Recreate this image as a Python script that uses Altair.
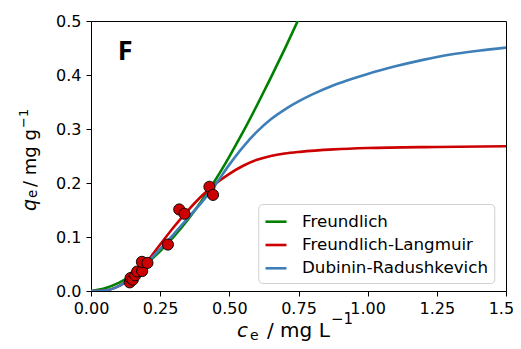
import altair as alt
import pandas as pd

# ---- data ----
series_names = ["Freundlich", "Freundlich-Langmuir", "Dubinin-Radushkevich"]
series_colors = ["#008000", "#cc0000", "#3e7fb8"]

fr_c = [0, 0.05, 0.1, 0.15, 0.2, 0.25, 0.3, 0.35, 0.4, 0.45, 0.5, 0.55, 0.6, 0.65, 0.7, 0.75]
fr_q = [0, 0.005, 0.015, 0.030, 0.050, 0.074, 0.101, 0.132, 0.167, 0.206, 0.249, 0.295, 0.344, 0.395, 0.448, 0.503]

fl_c = [0, 0.05, 0.1, 0.15, 0.2, 0.25, 0.3, 0.35, 0.4, 0.443, 0.5, 0.55, 0.6, 0.65, 0.7, 0.756, 0.877, 1.0, 1.25, 1.5]
fl_q = [0, 0.001, 0.009, 0.027, 0.053, 0.086, 0.119, 0.149, 0.176, 0.196, 0.217, 0.232, 0.243, 0.250, 0.2545, 0.2577, 0.2622, 0.2648, 0.2668, 0.268]

dr_c = [0, 0.05, 0.1, 0.15, 0.2, 0.25, 0.3, 0.35, 0.4, 0.45, 0.5, 0.55, 0.6, 0.65, 0.7, 0.75, 0.8, 0.877, 0.95, 1.0, 1.1, 1.2, 1.3, 1.4, 1.5]
dr_q = [0, 0.001, 0.009, 0.027, 0.051, 0.078, 0.106, 0.135, 0.164, 0.197, 0.234, 0.267, 0.295, 0.318, 0.336, 0.351, 0.364, 0.381, 0.394, 0.402, 0.416, 0.428, 0.438, 0.445, 0.4507]

exp_c = [0.140, 0.143, 0.151, 0.160, 0.167, 0.185, 0.184, 0.204, 0.278, 0.319, 0.338, 0.428, 0.441]
exp_q = [0.016, 0.024, 0.021, 0.029, 0.036, 0.037, 0.054, 0.052, 0.086, 0.151, 0.143, 0.193, 0.178]

x_ticks = [0, 0.25, 0.5, 0.75, 1.0, 1.25, 1.5]
y_ticks = [0, 0.1, 0.2, 0.3, 0.4, 0.5]

panel_text = ["F"]
panel_x = [0.097]
panel_y = [0.427]

# ---- tables ----
rows = []
for name, cs, qs in zip(series_names, [fr_c, fl_c, dr_c], [fr_q, fl_q, dr_q]):
    for i, (c, q) in enumerate(zip(cs, qs)):
        rows.append({"model": name, "c": c, "q": q, "i": i})
curves = pd.DataFrame(rows)
points = pd.DataFrame({"c": exp_c, "q": exp_q})
panel = pd.DataFrame({"t": panel_text, "c": panel_x, "q": panel_y})

FONT = "DejaVu Sans"
xs = alt.Scale(domain=[0, 1.5], nice=False, zero=False)
ys = alt.Scale(domain=[0, 0.5], nice=False, zero=False)

x_axis = alt.Axis(values=x_ticks, format=".2f", title=None, grid=False, labelFlush=False,
                  labelFont=FONT, labelFontSize=16, labelColor="black", labelPadding=4,
                  tickSize=5, tickColor="black", domainColor="black")
y_axis = alt.Axis(values=y_ticks, format=".1f", title=None, grid=False, labelFlush=False,
                  labelFont=FONT, labelFontSize=16, labelColor="black", labelPadding=5,
                  tickSize=5, tickColor="black", domainColor="black")

color = alt.Color(
    "model:N",
    sort=series_names,
    scale=alt.Scale(domain=series_names, range=series_colors),
    legend=alt.Legend(
        title=None, orient="none", legendX=167.3, legendY=183,
        symbolType="stroke", symbolSize=441, symbolStrokeWidth=2.6,
        labelFont=FONT, labelFontSize=16.7, labelColor="black", labelOffset=14,
        labelLimit=400, rowPadding=2.3, padding=5.7, fillColor="white",
        strokeColor="#d0d0d0", cornerRadius=4,
    ),
)

lines = alt.Chart(curves).mark_line(strokeWidth=2.6, clip=True, interpolate="monotone").encode(
    x=alt.X("c:Q", scale=xs, axis=x_axis),
    y=alt.Y("q:Q", scale=ys, axis=y_axis),
    color=color,
    order="i:Q",
)

dots = alt.Chart(points).mark_circle(size=125, color="#cc0000", stroke="black",
                                     strokeWidth=0.9, opacity=1).encode(
    x=alt.X("c:Q", scale=xs), y=alt.Y("q:Q", scale=ys))

label = alt.Chart(panel).mark_text(font="Open Sans", fontWeight="bold", fontSize=27,
                                   align="left", baseline="alphabetic", color="black").encode(
    x=alt.X("c:Q", scale=xs), y=alt.Y("q:Q", scale=ys), text="t:N")


def piece(txt, x, y, size, italic=False, angle=0):
    kw = dict(font=FONT, fontSize=size, align="left", baseline="alphabetic", color="black")
    if italic:
        kw["fontStyle"] = "italic"
    if angle:
        kw["angle"] = angle
    return alt.Chart(pd.DataFrame({"t": [txt]})).mark_text(**kw).encode(
        text="t:N", x=alt.value(x), y=alt.value(y))


title_parts = [
    piece("c", 146, 315.5, 20, italic=True),
    piece("e", 159, 318.5, 14),
    piece("/ mg L", 176, 315.5, 20),
    piece("\u22121", 240, 303, 15),
    piece("q", -55.5, 190, 19, italic=True, angle=270),
    piece("e", -54, 177, 13.5, angle=270),
    piece("/ mg g", -55.5, 166, 18, angle=270),
    piece("\u22121", -62.7, 107, 13, angle=270),
]

chart = alt.layer(lines, dots, label, *title_parts).properties(
    width=415, height=270,
    padding={"left": 83, "top": 13, "right": 7, "bottom": 50},
    autosize="none",
    background="white",
).configure_view(stroke="black", strokeWidth=1)

chart.save("out.html", embed_options={"renderer": "svg", "actions": False})
